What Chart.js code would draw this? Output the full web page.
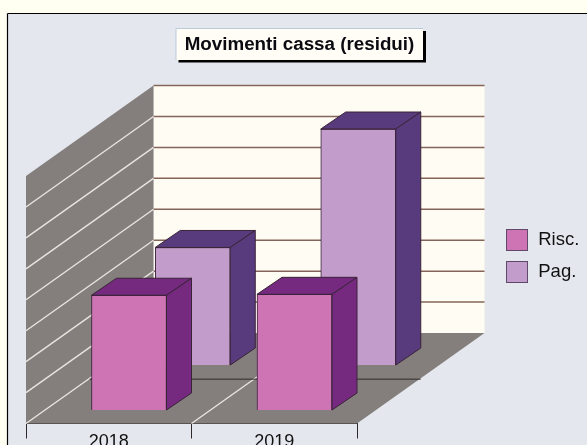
<!DOCTYPE html>
<html><head><meta charset="utf-8">
<script src="https://cdn.jsdelivr.net/npm/chart.js@4"></script>
<style>html,body{margin:0;padding:0;background:#FFFFF2;overflow:hidden}canvas{display:block;filter:blur(0.3px)}</style>
</head><body><canvas id="c" width="587" height="445"></canvas>
<script>
const categories = ['2018', '2019'];
const riscValues = [3.71, 3.74];
const pagValues = [3.80, 7.63];
const seriesNames = ['Risc.', 'Pag.'];
const chartTitle = 'Movimenti cassa (residui)';

// 3D projection: depth vector of the whole floor, offset of each series row, bar depth
const FLOOR = {dx: 127.5, dy: -90.5};
const ROW = [{dx: 20.25, dy: -13.5}, {dx: 84, dy: -58.5}];
const BAR = {dx: 25, dy: -17};
const FACE = [{front: '#CE73B4', top: '#752A80', side: '#752A80'}, {front: '#C29CCB', top: '#583B7C', side: '#583B7C'}];
const EDGE = '#3A2238';

function poly(ctx, pts, fill, stroke) {
  ctx.beginPath();
  pts.forEach((p, i) => i ? ctx.lineTo(p[0], p[1]) : ctx.moveTo(p[0], p[1]));
  ctx.closePath();
  ctx.fillStyle = fill; ctx.fill();
  if (stroke) { ctx.strokeStyle = stroke; ctx.lineWidth = 1; ctx.stroke(); }
}
function line(ctx, x1, y1, x2, y2, color, w) {
  ctx.beginPath(); ctx.moveTo(x1, y1); ctx.lineTo(x2, y2);
  ctx.strokeStyle = color; ctx.lineWidth = w; ctx.stroke();
}
function swatch(color) {
  const c = document.createElement('canvas');
  c.width = 22; c.height = 22;
  const g = c.getContext('2d');
  g.fillStyle = color; g.fillRect(0, 0, 22, 22);
  g.strokeStyle = '#5E4A68'; g.lineWidth = 1; g.strokeRect(0.5, 0.5, 21, 21);
  return c;
}
const swatches = FACE.map(f => swatch(f.front));

const scene3d = {
  id: 'scene3d',
  afterLayout(chart) {
    const t = chart.titleBlock; t.left = 0; t.right = 599;
    const l = chart.legend, p = l.options.labels.padding;
    const w = l.right - l.left;
    l.left = 505 - p; l.right = l.left + w; l.top = 230.75 - p; l.bottom = 440;
  },
  beforeDraw(chart) {
    const ctx = chart.ctx;
    ctx.save();
    ctx.fillStyle = '#FFFFF2'; ctx.fillRect(0, 0, 587, 445);
    ctx.fillStyle = '#E4E8EE'; ctx.fillRect(7.5, 14, 580, 431);
    line(ctx, 7.5, 13.5, 587, 13.5, '#000', 1.2);
    line(ctx, 7.5, 13.5, 7.5, 445, '#000', 1.2);
    // title plate
    ctx.fillStyle = '#000'; ctx.fillRect(178.5, 31, 247.5, 31.5);
    ctx.fillStyle = '#FFFDF6'; ctx.fillRect(176, 28.5, 247, 31.5);
    ctx.strokeStyle = '#B9CBD8'; ctx.lineWidth = 1;
    ctx.beginPath(); ctx.moveTo(176, 60); ctx.lineTo(176, 28.5); ctx.lineTo(423, 28.5); ctx.stroke();
    ctx.restore();
  },
  beforeDatasetsDraw(chart) {
    const ctx = chart.ctx, a = chart.chartArea, xs = chart.scales.x, ys = chart.scales.y;
    const {dx, dy} = FLOOR, W = '#E8E5DE', G = '#847F7C';
    ctx.save();
    // back wall
    ctx.fillStyle = '#FFFDF3';
    ctx.fillRect(a.left + dx, a.top + dy, a.right - a.left, a.bottom - a.top);
    // left wall and floor
    poly(ctx, [[a.left, a.top], [a.left + dx, a.top + dy], [a.left + dx, a.bottom + dy], [a.left, a.bottom]], G);
    poly(ctx, [[a.left, a.bottom], [a.right, a.bottom], [a.right + dx, a.bottom + dy], [a.left + dx, a.bottom + dy]], G);
    // grid levels
    ys.ticks.forEach(t => {
      const y = ys.getPixelForValue(t.value);
      if (t.value > 0) line(ctx, a.left + dx, y + dy, a.right + dx, y + dy, '#856459', 1.5);
      if (t.value < ys.max) line(ctx, a.left, y, a.left + dx, y + dy, W, 1.4);
    });
    // floor: category boundaries and row divider
    const bx = (xs.getPixelForValue(0) + xs.getPixelForValue(1)) / 2;
    line(ctx, bx, a.bottom, bx + dx, a.bottom + dy, W, 1.4);
    line(ctx, a.left + dx * 0.5, a.bottom + dy * 0.49, a.right + dx * 0.5, a.bottom + dy * 0.49, '#2E2A2C', 1);
    ctx.restore();
  },
  beforeDatasetDraw(chart, args) {
    const r = ROW[args.index];
    chart.ctx.save();
    chart.ctx.translate(r.dx, r.dy);
  },
  afterDatasetDraw(chart, args) {
    const ctx = chart.ctx, f = FACE[args.index];
    args.meta.data.forEach(b => {
      const l = b.x - b.width / 2, r = b.x + b.width / 2, t = b.y, bt = b.base;
      poly(ctx, [[l, t], [r, t], [r + BAR.dx, t + BAR.dy], [l + BAR.dx, t + BAR.dy]], f.top, EDGE);
      poly(ctx, [[r, t], [r + BAR.dx, t + BAR.dy], [r + BAR.dx, bt + BAR.dy], [r, bt]], f.side, EDGE);
    });
    ctx.restore();
  }
};

new Chart(document.getElementById('c'), {
  type: 'bar',
  data: {
    labels: categories,
    datasets: [
      {label: seriesNames[0], data: riscValues, backgroundColor: FACE[0].front, borderColor: EDGE, borderWidth: 1, clip: false},
      {label: seriesNames[1], data: pagValues, backgroundColor: FACE[1].front, borderColor: EDGE, borderWidth: 1, clip: false}
    ]
  },
  options: {
    responsive: false,
    animation: false,
    events: [],
    layout: {padding: {left: 26, right: 230, top: 0, bottom: 0}},
    datasets: {bar: {grouped: false, barThickness: 75}},
    scales: {
      x: {
        afterFit: s => { s.height = 21.5; },
        grid: {drawOnChartArea: false, color: '#2E2A2C', tickLength: 15, offset: true},
        border: {color: '#2E2A2C', width: 1},
        ticks: {color: '#111', padding: -7, maxRotation: 0, font: {family: '"Liberation Sans", Arial, sans-serif', size: 18}}
      },
      y: {display: false, min: 0, max: 8, ticks: {stepSize: 1}}
    },
    plugins: {
      title: {
        display: true, text: chartTitle, color: '#0A0A10',
        font: {family: '"Liberation Sans", Arial, sans-serif', size: 18.8, weight: 'bold', lineHeight: 1.2},
        padding: {top: 33.5, bottom: 120}
      },
      legend: {
        position: 'chartArea', align: 'start',
        labels: {usePointStyle: true, pointStyleWidth: 24, padding: 13.5, color: '#111',
          font: {family: '"Liberation Sans", Arial, sans-serif', size: 18.5},
          generateLabels: chart => Chart.defaults.plugins.legend.labels.generateLabels(chart)
            .map((item, i) => Object.assign(item, {pointStyle: swatches[i]}))}
      },
      tooltip: {enabled: false}
    }
  },
  plugins: [scene3d]
});
</script></body></html>
